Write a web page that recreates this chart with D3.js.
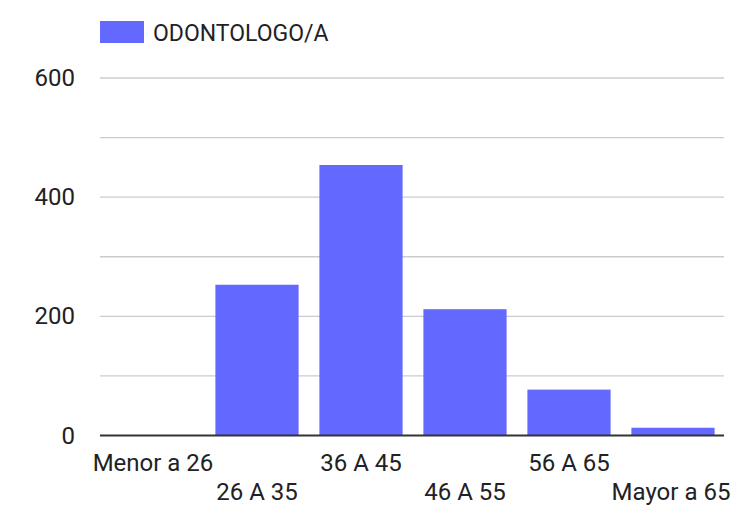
<!DOCTYPE html>
<html><head><meta charset="utf-8">
<script src="https://cdn.jsdelivr.net/npm/d3@7"></script>
<style>body{margin:0;background:#fff}svg{display:block}text{font-family:Roboto,sans-serif}</style>
</head><body>
<svg id="c" width="731" height="505"></svg>
<script>
const categories = ["Menor a 26","26 A 35","36 A 45","46 A 55","56 A 65","Mayor a 65"];
const values = [0,253,454,212,77,13];
const seriesName = "ODONTOLOGO/A";
const yTicks = [0,200,400,600];
const yGrid = [0,100,200,300,400,500,600];

(function(){
const svg = d3.select("#c");
const pLeft=101, pRight=725, pTop=78, pBottom=435.5;
const fs = 24;
const x = d3.scaleBand().domain(categories).range([pLeft,pRight]).paddingInner(0.2).paddingOuter(0.1);
const y = d3.scaleLinear().domain([0,600]).range([pBottom,pTop]);

svg.append("g").selectAll("line").data(yGrid.filter(d=>d>0)).join("line")
  .attr("x1",100).attr("x2",724).attr("y1",d=>y(d)).attr("y2",d=>y(d))
  .attr("stroke","#cccccc").attr("stroke-width",1.3);

svg.append("g").selectAll("text").data(yTicks).join("text")
  .attr("x",75).attr("y",d=>y(d)+8).attr("text-anchor","end")
  .attr("font-size",fs).attr("fill","#222").text(d=>d);

svg.append("g").selectAll("rect").data(values).join("rect")
  .attr("x",(d,i)=>x(categories[i])).attr("width",x.bandwidth())
  .attr("y",d=>y(d)).attr("height",d=>pBottom-y(d)).attr("fill","#6369ff");

svg.append("line").attr("x1",100).attr("x2",724).attr("y1",pBottom).attr("y2",pBottom)
  .attr("stroke","#333").attr("stroke-width",2);

svg.append("g").selectAll("text").data(categories).join("text")
  .attr("x",(d,i)=>{let c=x(d)+x.bandwidth()/2; if(i===0) c=Math.max(c,152); if(i===5) c=Math.min(c,671); return c;})
  .attr("y",(d,i)=>i%2===0?471:500).attr("text-anchor","middle")
  .attr("font-size",fs).attr("fill","#222").text(d=>d);

svg.append("rect").attr("x",100).attr("y",21).attr("width",44).attr("height",22).attr("fill","#6369ff");
svg.append("text").attr("x",153).attr("y",41).attr("font-size",23).attr("fill","#222").text(seriesName);
})();
</script>
</body></html>
